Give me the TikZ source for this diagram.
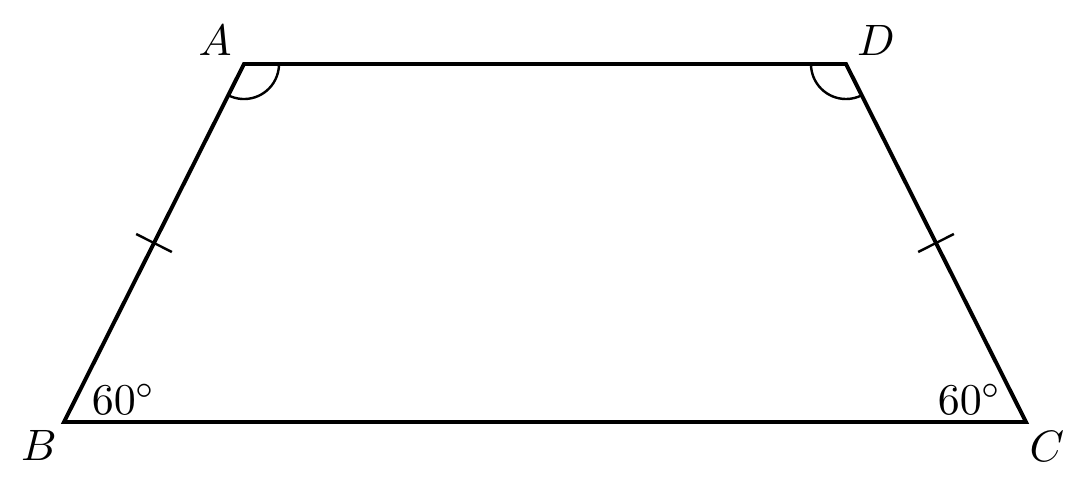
\documentclass[tikz,border=0pt]{standalone}
\usetikzlibrary{calc,angles}
\begin{document}
\begin{tikzpicture}[x=0.008cm,y=0.008cm,
  side/.style={line width=0.9pt, line join=miter},
  thin mark/.style={line width=0.55pt},
  vlabel/.style={inner sep=0pt, font=\normalsize}]
\useasboundingbox (0,0) rectangle (1085,495);
\coordinate (A) at (244,431);
\coordinate (D) at (846,431);
\coordinate (B) at (64,73);
\coordinate (C) at (1026,73);
\draw[side] (A) -- (D) -- (C) -- (B) -- cycle;
% angle arcs
\pic[draw, thin mark, angle radius=0.28cm] {angle = B--A--D};
\pic[draw, thin mark, angle radius=0.28cm] {angle = A--D--C};
% tick marks
\coordinate (M1) at ($(A)!0.5!(B)$);
\coordinate (M2) at ($(D)!0.5!(C)$);
\draw[thin mark] ($(M1)!0.16cm!90:(A)$) -- ($(M1)!0.16cm!-90:(A)$);
\draw[thin mark] ($(M2)!0.16cm!90:(D)$) -- ($(M2)!0.16cm!-90:(D)$);
% labels
\node[vlabel] (lA) at (215,455) {$A$};
\node[vlabel] (lD) at (876,455) {$D$};
\node[vlabel] (lB) at (39,50) {$B$};
\node[vlabel] (lC) at (1047,49) {$C$};
\node[vlabel] (aB) at (124,96) {$60^\circ$};
\node[vlabel] (aC) at (970,96) {$60^\circ$};
\end{tikzpicture}
\end{document}
